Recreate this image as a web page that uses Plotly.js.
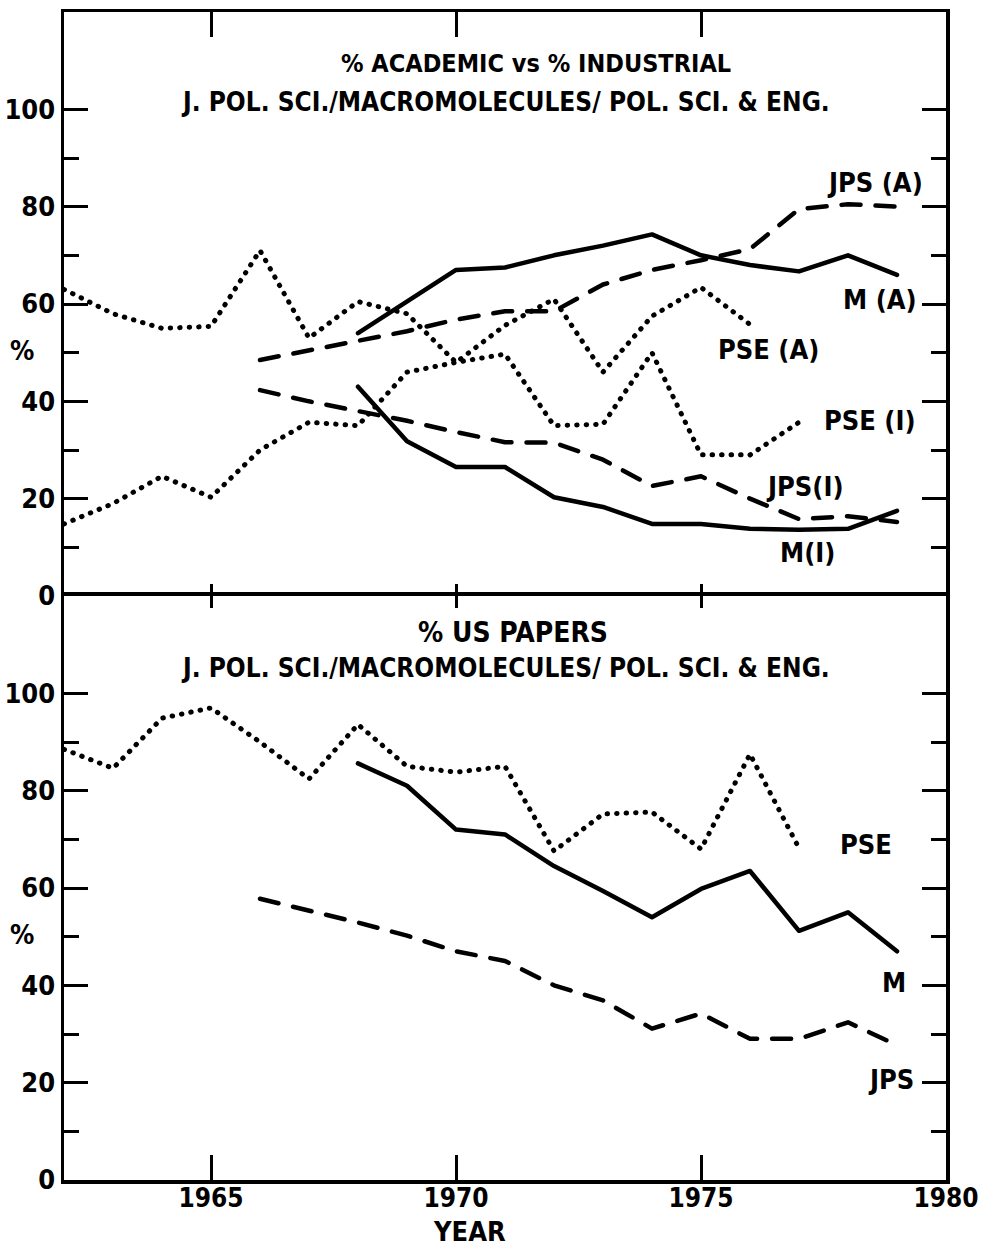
<!DOCTYPE html>
<html>
<head>
<meta charset="utf-8">
<script src="https://cdn.plot.ly/plotly-3.0.1.min.js"></script>
<style>
html,body{margin:0;padding:0;background:#fff;}
.js-line{stroke-linecap:round;stroke-linejoin:round;}
</style>
</head>
<body>
<div id="chart" style="width:984px;height:1248px;"></div>
<script>
// ---- Top panel: % academic vs % industrial ----
var yearsPSE_A = [1962,1963,1964,1965,1966,1967,1968,1969,1970,1971,1972,1973,1974,1975,1976];
var pseA = [63,58,55,55.4,71,53,60.5,58,48,55.6,61,46,57.5,63.4,55.8];
var yearsPSE_I = [1962,1963,1964,1965,1966,1967,1968,1969,1970,1971,1972,1973,1974,1975,1976,1977];
var pseI = [14.8,19,24.6,20.3,30,35.7,35,46,48,49.7,35,35.3,50,29,29,35.7];
var yearsM = [1968,1969,1970,1971,1972,1973,1974,1975,1976,1977,1978,1979];
var mA = [54,60.5,67,67.5,70,72,74.3,70,68,66.7,70,66];
var mI = [43,31.8,26.5,26.5,20.3,18.3,14.8,14.8,13.8,13.6,13.8,17.5];
var yearsJPS = [1966,1967,1968,1969,1970,1971,1972,1973,1974,1975,1976,1977,1978,1979];
var jpsA = [48.5,50.4,52.4,54.4,56.8,58.5,58.5,64,67,69,71.3,79.5,80.5,80];
var jpsI = [42.3,40,38,36,33.7,31.6,31.5,28,22.6,24.6,20,15.8,16.4,15.2];

// ---- Bottom panel: % US papers ----
var yearsPSE = [1962,1963,1964,1965,1966,1967,1968,1969,1970,1971,1972,1973,1974,1975,1976,1977];
var usPSE = [88.5,84.6,94.9,97,90,82.4,93.6,85,83.8,85,67.6,75.2,75.6,68,87.5,68.2];
var usM = [85.6,81,72,71,64.5,59.4,54,59.8,63.5,51.2,55,47];
var usJPS = [57.8,55.4,52.9,50.2,47,45,40,36.9,31.1,34.2,29,29,32.4,27.7];

var xTicks = [1965,1970,1975,1980];
var xInnerTicks = [1965,1970,1975];
var yTicks = [0,20,40,60,80,100];
var yMinor = [10,30,50,70,90];

var FONT = "'DejaVu Sans Condensed','Liberation Sans Narrow','Roboto Condensed','Arial Narrow','DejaVu Sans',sans-serif";

var SOLID = {color:'#000', width:4.5, dash:'solid'};
var DASH = {color:'#000', width:4.5, dash:'19px,15px'};
var DOT = {color:'#000', width:5, dash:'0.5px,9px'};

function tr(x, y, line, xa, ya){
  return {x:x, y:y, type:'scatter', mode:'lines', line:line, xaxis:xa, yaxis:ya, hoverinfo:'skip'};
}

var data = [
  tr(yearsPSE_A, pseA, DOT, 'x2', 'y2'),
  tr(yearsPSE_I, pseI, DOT, 'x2', 'y2'),
  tr(yearsM, mA, SOLID, 'x2', 'y2'),
  tr(yearsM, mI, SOLID, 'x2', 'y2'),
  tr(yearsJPS, jpsA, DASH, 'x2', 'y2'),
  tr(yearsJPS, jpsI, DASH, 'x2', 'y2'),
  tr(yearsPSE, usPSE, DOT, 'x', 'y'),
  tr(yearsM, usM, SOLID, 'x', 'y'),
  tr(yearsJPS, usJPS, DASH, 'x', 'y'),
  {x:[], y:[], type:'scatter', mode:'lines', xaxis:'x3', yaxis:'y2', showlegend:false},
  {x:[], y:[], type:'scatter', mode:'lines', xaxis:'x4', yaxis:'y', showlegend:false}
];

var XR = [1962,1980];
var axBase = {showgrid:false, zeroline:false, showline:true, linecolor:'#000', linewidth:3.5,
  ticks:'inside', tickcolor:'#000', tickwidth:3};

function yax(domain, anchor){
  return Object.assign({}, axBase, {domain:domain, anchor:anchor, range:[0,120], tickvals:yTicks,
    ticklen:24, mirror:'ticks', tickfont:{family:FONT, size:27, weight:'bold', color:'#000'},
    minor:{tickvals:yMinor, ticks:'inside', ticklen:15, tickwidth:3, tickcolor:'#000'}});
}

var annFont = {family:FONT, size:27, weight:'bold', color:'#000'};
function lab(text, x, y){
  return {text:text, x:x, y:y, xref:'x2', yref:'y2', showarrow:false, font:annFont,
    xanchor:'center', yanchor:'middle'};
}
function labB(text, x, y){
  return {text:text, x:x, y:y, xref:'x', yref:'y', showarrow:false, font:annFont,
    xanchor:'center', yanchor:'middle'};
}
function pap(text, x, y, size){
  return {text:text, x:x, y:y, xref:'paper', yref:'paper', showarrow:false,
    xanchor:'center', yanchor:'middle',
    font:{family:FONT, size:size, weight:'bold', color:'#000'}};
}

var layout = {
  width:984, height:1248,
  margin:{l:64, r:38, t:12, b:68},
  paper_bgcolor:'#fff', plot_bgcolor:'#fff',
  showlegend:false,
  font:{family:FONT, color:'#000'},
  xaxis: Object.assign({}, axBase, {domain:[0,1], anchor:'y', range:XR, tickvals:xTicks, ticklen:25,
    ticklabelstandoff:-8,
    tickfont:{family:FONT, size:26, weight:'bold', color:'#000'}}),
  xaxis4: Object.assign({}, axBase, {overlaying:'x', anchor:'y', side:'top', range:XR,
    tickvals:xInnerTicks, ticklen:12, showticklabels:false, linewidth:4}),
  xaxis2: Object.assign({}, axBase, {domain:[0,1], anchor:'y2', range:XR, tickvals:xInnerTicks,
    ticklen:12, showticklabels:false, showline:false}),
  xaxis3: Object.assign({}, axBase, {overlaying:'x2', anchor:'y2', side:'top', range:XR,
    tickvals:xInnerTicks, ticklen:25, showticklabels:false}),
  yaxis: yax([0,0.5], 'x'),
  yaxis2: yax([0.5,1], 'x2'),
  annotations:[
    pap('% ACADEMIC vs % INDUSTRIAL', 0.535, 0.9563, 25),
    pap('J. POL. SCI./MACROMOLECULES/ POL. SCI. & ENG.', 0.5, 0.923, 26),
    pap('% US PAPERS', 0.509, 0.469, 28),
    pap('J. POL. SCI./MACROMOLECULES/ POL. SCI. & ENG.', 0.5, 0.438, 26),
    pap('%', -0.048, 0.7106, 27),
    pap('%', -0.048, 0.2098, 27),
    pap('YEAR', 0.46, -0.0445, 27),
    lab('JPS (A)', 1978.55, 85),
    lab('M (A)', 1978.65, 61),
    lab('PSE (A)', 1976.37, 50.7),
    lab('PSE (I)', 1978.45, 36),
    lab('JPS(I)', 1977.12, 22.4),
    lab('M(I)', 1977.18, 9),
    labB('PSE', 1978.37, 69),
    labB('M', 1978.94, 40.6),
    labB('JPS', 1978.88, 20.7)
  ]
};

Plotly.newPlot('chart', data, layout, {displayModeBar:false, staticPlot:true});
</script>
</body>
</html>
